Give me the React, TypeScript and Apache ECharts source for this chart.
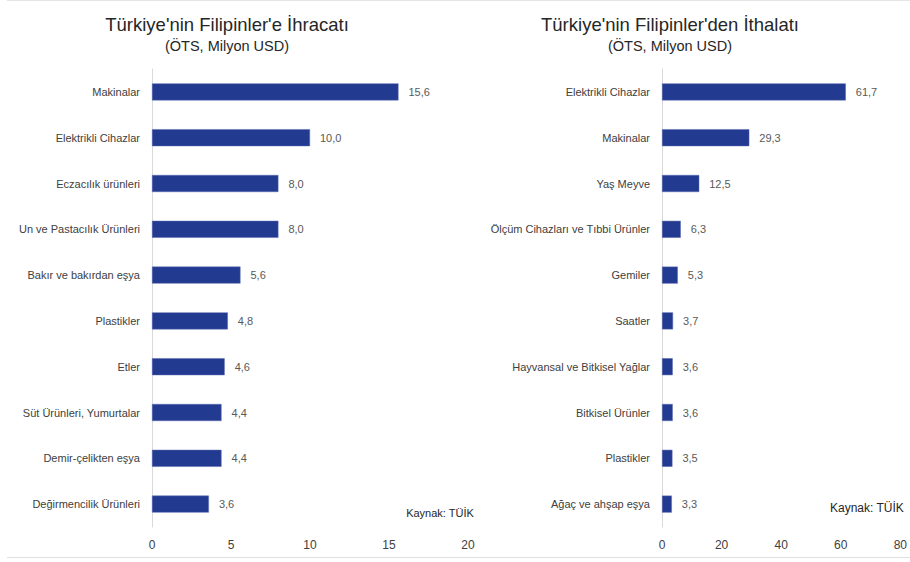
import React, { useEffect, useRef } from "react";
import * as echarts from "echarts";

const exportCategories = [
  "Makinalar",
  "Elektrikli Cihazlar",
  "Eczacılık ürünleri",
  "Un ve Pastacılık Ürünleri",
  "Bakır ve bakırdan eşya",
  "Plastikler",
  "Etler",
  "Süt Ürünleri, Yumurtalar",
  "Demir-çelikten eşya",
  "Değirmencilik Ürünleri",
];
const exportValues = [15.6, 10.0, 8.0, 8.0, 5.6, 4.8, 4.6, 4.4, 4.4, 3.6];

const importCategories = [
  "Elektrikli Cihazlar",
  "Makinalar",
  "Yaş Meyve",
  "Ölçüm Cihazları ve Tıbbi Ürünler",
  "Gemiler",
  "Saatler",
  "Hayvansal ve Bitkisel Yağlar",
  "Bitkisel Ürünler",
  "Plastikler",
  "Ağaç ve ahşap eşya",
];
const importValues = [61.7, 29.3, 12.5, 6.3, 5.3, 3.7, 3.6, 3.6, 3.5, 3.3];

const FONT = "Liberation Sans";
const TEXT = "#404040";
const BAR = "#233a91";

export default function App() {
  const ref = useRef<HTMLDivElement>(null);
  useEffect(() => {
    if (!ref.current) return;
    const chart = echarts.init(ref.current, undefined, { renderer: "svg" });
    const fmt = (p: any) => Number(p.value).toFixed(1).replace(".", ",");
    const catAxis = (data: string[], gridIndex: number) => ({
      type: "category",
      gridIndex,
      data,
      inverse: true,
      axisLine: { show: true, lineStyle: { color: "#d9d9d9", width: 1 } },
      axisTick: { show: false },
      axisLabel: { color: TEXT, fontSize: 11, fontFamily: FONT, margin: 12 },
    });
    const valAxis = (gridIndex: number, max: number, interval: number) => ({
      type: "value",
      gridIndex,
      min: 0,
      max,
      interval,
      axisLine: { show: false },
      axisTick: { show: false },
      splitLine: { show: false },
      axisLabel: { color: TEXT, fontSize: 12, fontFamily: FONT, margin: 12 },
    });
    const barSeries = (data: number[], idx: number) => ({
      type: "bar",
      xAxisIndex: idx,
      yAxisIndex: idx,
      data,
      barWidth: 17,
      itemStyle: { color: BAR, borderColor: "#5a6bb0", borderWidth: 0.5 },
      label: {
        show: true,
        position: "right",
        distance: 10,
        color: "#595959",
        fontSize: 11,
        fontFamily: FONT,
        formatter: fmt,
      },
    });
    const titleStyle = { color: "#262626", fontSize: 18.5, fontWeight: "normal", fontFamily: FONT };
    const subStyle = { color: "#262626", fontSize: 14.5, fontFamily: FONT };
    chart.setOption({
      animation: false,
      backgroundColor: "#ffffff",
      title: [
        {
          text: "Türkiye'nin Filipinler'e İhracatı",
          subtext: "(ÖTS, Milyon USD)",
          left: 222,
          top: 10,
          textAlign: "center",
          itemGap: 4,
          textStyle: titleStyle,
          subtextStyle: subStyle,
        },
        {
          text: "Türkiye'nin Filipinler'den İthalatı",
          subtext: "(ÖTS, Milyon USD)",
          left: 665,
          top: 10,
          textAlign: "center",
          itemGap: 4,
          textStyle: titleStyle,
          subtextStyle: subStyle,
        },
      ],
      grid: [
        { left: 152, right: 442, top: 69, bottom: 35, containLabel: false },
        { left: 662, right: 8, top: 69, bottom: 35, containLabel: false },
      ],
      xAxis: [valAxis(0, 20, 5), valAxis(1, 80, 20)],
      yAxis: [catAxis(exportCategories, 0), catAxis(importCategories, 1)],
      series: [barSeries(exportValues, 0), barSeries(importValues, 1)],
      graphic: [
        { type: "line", shape: { x1: 7, y1: 0.5, x2: 910, y2: 0.5 }, style: { stroke: "#e6e6e6", lineWidth: 1 } },
        { type: "line", shape: { x1: 7, y1: 557.5, x2: 910, y2: 557.5 }, style: { stroke: "#e0e0e0", lineWidth: 1 } },
        {
          type: "text",
          right: 436,
          top: 507,
          style: { text: "Kaynak: TÜİK", fill: "#262626", fontSize: 11, fontFamily: FONT },
        },
        {
          type: "text",
          right: 6,
          top: 502,
          style: { text: "Kaynak: TÜİK", fill: "#262626", fontSize: 12, fontFamily: FONT },
        },
      ],
    });
    return () => chart.dispose();
  }, []);
  return <div ref={ref} style={{ width: 910, height: 562, position: "absolute", left: 0, top: 0 }} />;
}
